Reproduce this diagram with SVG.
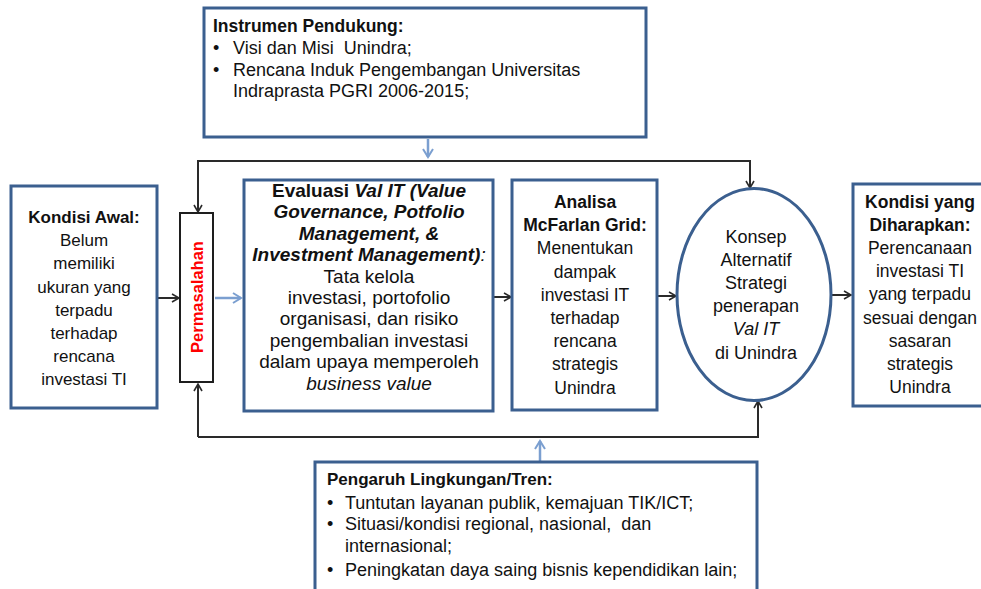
<svg xmlns="http://www.w3.org/2000/svg" width="981" height="589" viewBox="0 0 981 589">
<defs>
<style>
.box{fill:#fff;stroke:#3b5f8f;stroke-width:3}
.pbox{fill:#fff;stroke:#1e1e1e;stroke-width:2}
.t{font-family:"Liberation Sans",Arial,sans-serif;font-size:17px;fill:#111}
.s18{font-size:18px}
.s19{font-size:19px}
.c{text-anchor:middle}
.b{font-weight:bold}
.i{font-style:italic}
.line{fill:none;stroke:#2a2a2a;stroke-width:2}
.bline{fill:none;stroke:#7b9fd0;stroke-width:2.5}
</style>
<marker id="ah" markerWidth="10" markerHeight="10" refX="8" refY="5" orient="auto" markerUnits="userSpaceOnUse">
<path d="M1,1 L8,5 L1,9" fill="none" stroke="#2a2a2a" stroke-width="1.6"/>
</marker>
<marker id="ahb" markerWidth="12" markerHeight="12" refX="9" refY="6" orient="auto" markerUnits="userSpaceOnUse">
<path d="M1,1 L9,6 L1,11" fill="none" stroke="#7b9fd0" stroke-width="2"/>
</marker>
</defs>
<rect width="981" height="589" fill="#fff"/>

<g id="connectors">
<path class="bline" d="M428,139 L428,157" marker-end="url(#ahb)"/>
<path class="line" d="M198,176 L198,161 L750,161 L750,188" marker-end="url(#ah)"/>
<path class="line" d="M198,161 L198,212" marker-end="url(#ah)"/>
<path class="line" d="M157,298 L179,298" marker-end="url(#ah)"/>
<path class="bline" d="M215,298 L241,298" marker-end="url(#ahb)"/>
<path class="line" d="M494,297 L511,297" marker-end="url(#ah)"/>
<path class="line" d="M658,296 L676,296" marker-end="url(#ah)"/>
<path class="line" d="M832,295 L851,295" marker-end="url(#ah)"/>
<path class="line" d="M198,437 L198,384" marker-end="url(#ah)"/>
<path class="line" d="M198,437 L758,437 L758,401" marker-end="url(#ah)"/>
<path class="bline" d="M540,461 L540,441" marker-end="url(#ahb)"/>
</g>

<g id="instrumen">
<rect class="box" x="204" y="8" width="442" height="129"/>
<text class="t b" x="213" y="32" style="font-size:17.5px">Instrumen Pendukung:</text>
<text class="t s18" x="213" y="54">•</text>
<text class="t s18" x="233" y="54" xml:space="preserve">Visi dan Misi  Unindra;</text>
<text class="t s18" x="213" y="76">•</text>
<text class="t s18" x="233" y="76">Rencana Induk Pengembangan Universitas</text>
<text class="t s18" x="233" y="97">Indraprasta PGRI 2006-2015;</text>
</g>

<g id="kondisi-awal">
<rect class="box" x="11" y="186" width="146" height="222"/>
<text class="t c" x="84" y="223"><tspan class="b">Kondisi Awal:</tspan><tspan x="84" dy="23.2">Belum</tspan><tspan x="84" dy="23.2">memiliki</tspan><tspan x="84" dy="23.2">ukuran yang</tspan><tspan x="84" dy="23.2">terpadu</tspan><tspan x="84" dy="23.2">terhadap</tspan><tspan x="84" dy="23.2">rencana</tspan><tspan x="84" dy="23.2">investasi TI</tspan></text>
</g>

<g id="permasalahan">
<rect class="pbox" x="180" y="213" width="33" height="169"/>
<text class="t b c" x="0" y="0" transform="translate(203,297) rotate(-90)" style="fill:#ff0000;font-size:16.5px">Permasalahan</text>
</g>

<g id="evaluasi">
<rect class="box" x="244" y="180" width="249" height="231"/>
<text class="t s19 c" x="369" y="197"><tspan class="b">Evaluasi </tspan><tspan class="b i">Val IT (Value</tspan><tspan class="b i" x="369" dy="21.4">Governance, Potfolio</tspan><tspan class="b i" x="369" dy="21.4">Management, &amp;</tspan><tspan x="369" dy="21.4"><tspan class="b i">Investment Management)</tspan><tspan class="i">:</tspan></tspan><tspan x="369" dy="21.4">Tata kelola</tspan><tspan x="369" dy="21.4">investasi, portofolio</tspan><tspan x="369" dy="21.4">organisasi, dan risiko</tspan><tspan x="369" dy="21.4">pengembalian investasi</tspan><tspan x="369" dy="21.4">dalam upaya memperoleh</tspan><tspan class="i" x="369" dy="21.4">business value</tspan></text>
</g>

<g id="analisa">
<rect class="box" x="512" y="180" width="145" height="230"/>
<text class="t c" x="585" y="208" style="font-size:17.5px"><tspan class="b">Analisa</tspan><tspan class="b" x="585" dy="23.2">McFarlan Grid:</tspan><tspan x="585" dy="23.2">Menentukan</tspan><tspan x="585" dy="23.2">dampak</tspan><tspan x="585" dy="23.2">investasi IT</tspan><tspan x="585" dy="23.2">terhadap</tspan><tspan x="585" dy="23.2">rencana</tspan><tspan x="585" dy="23.2">strategis</tspan><tspan x="585" dy="23.2">Unindra</tspan></text>
</g>

<g id="konsep">
<ellipse cx="754" cy="294.5" rx="77" ry="106" fill="#fff" stroke="#3b5f8f" stroke-width="3"/>
<text class="t s18 c" x="756" y="243"><tspan>Konsep</tspan><tspan x="756" dy="23.1">Alternatif</tspan><tspan x="756" dy="23.1">Strategi</tspan><tspan x="756" dy="23.1">penerapan</tspan><tspan class="i" x="756" dy="23.1">Val IT</tspan><tspan x="756" dy="23.1">di Unindra</tspan></text>
</g>

<g id="kondisi-diharapkan">
<rect class="box" x="853" y="184" width="140" height="222"/>
<text class="t c" x="920" y="208" style="font-size:17.5px"><tspan class="b">Kondisi yang</tspan><tspan class="b" x="920" dy="23.1">Diharapkan:</tspan><tspan x="920" dy="23.1">Perencanaan</tspan><tspan x="920" dy="23.1">investasi TI</tspan><tspan x="920" dy="23.1">yang terpadu</tspan><tspan x="920" dy="23.1">sesuai dengan</tspan><tspan x="920" dy="23.1">sasaran</tspan><tspan x="920" dy="23.1">strategis</tspan><tspan x="920" dy="23.1">Unindra</tspan></text>
</g>

<g id="pengaruh">
<rect class="box" x="315" y="462" width="442" height="140"/>
<text class="t b" x="327" y="485">Pengaruh Lingkungan/Tren:</text>
<text class="t s18" x="327" y="509">•</text>
<text class="t s18" x="345" y="509">Tuntutan layanan publik, kemajuan TIK/ICT;</text>
<text class="t s18" x="327" y="530">•</text>
<text class="t s18" x="345" y="530" xml:space="preserve">Situasi/kondisi regional, nasional,  dan</text>
<text class="t s18" x="345" y="552">internasional;</text>
<text class="t s18" x="327" y="576">•</text>
<text class="t s18" x="345" y="576">Peningkatan daya saing bisnis kependidikan lain;</text>
</g>
</svg>
